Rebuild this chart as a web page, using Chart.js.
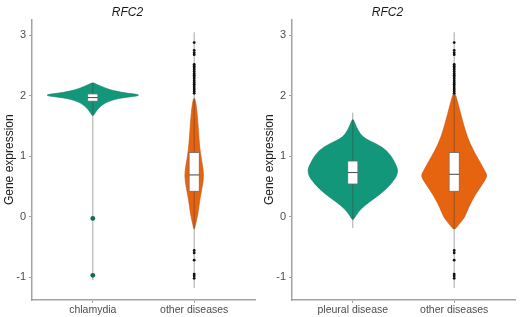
<!DOCTYPE html>
<html>
<head>
<meta charset="utf-8">
<script src="https://cdn.jsdelivr.net/npm/chart.js@4"></script>
<style>
  body { margin: 0; background: #fff; }
  #wrap { display: flex; width: 520px; height: 317px; }
  canvas { display: block; }
</style>
</head>
<body>
<div id="wrap">
  <canvas id="leftChart" width="260" height="317"></canvas>
  <canvas id="rightChart" width="260" height="317"></canvas>
</div>
<script>
const geneName = 'RFC2';
const leftLabels = ['chlamydia', 'other diseases'];
const rightLabels = ['pleural disease', 'other diseases'];
const yTicks = [-1, 0, 1, 2, 3];

// violin outlines: y values and half widths (in category units)
const chlamydiaY = [1.66, 1.72, 1.78, 1.83, 1.88, 1.92, 1.955, 1.98, 2.00, 2.02, 2.045, 2.07, 2.10, 2.13, 2.16, 2.19, 2.22];
const chlamydiaW = [0, 0.025, 0.05, 0.08, 0.12, 0.18, 0.25, 0.36, 0.45, 0.45, 0.33, 0.24, 0.17, 0.12, 0.08, 0.035, 0];
const otherLeftY = [-0.23, -0.12, 0.05, 0.26, 0.48, 0.675, 0.87, 1.06, 1.31, 1.58, 1.86, 1.99];
const otherLeftW = [0, 0.015, 0.038, 0.053, 0.078, 0.096, 0.08, 0.06, 0.046, 0.036, 0.02, 0];
const pleuralY = [-0.07, 0.02, 0.13, 0.24, 0.37, 0.54, 0.73, 0.92, 1.09, 1.20, 1.28, 1.36, 1.50, 1.64];
const pleuralW = [0, 0.03, 0.08, 0.16, 0.27, 0.38, 0.455, 0.41, 0.34, 0.24, 0.13, 0.075, 0.03, 0];
const otherRightY = [-0.23, -0.12, -0.01, 0.15, 0.37, 0.54, 0.675, 0.76, 0.92, 1.09, 1.31, 1.58, 1.86, 2.10];
const otherRightW = [0, 0.05, 0.105, 0.14, 0.21, 0.28, 0.33, 0.30, 0.25, 0.19, 0.13, 0.083, 0.04, 0];

// boxes: q1, median, q3 ; whisker line: min, max
const chlamydiaBox = [1.91, 1.97, 2.03];
const otherLeftBox = [0.42, 0.69, 1.06];
const pleuralBox = [0.54, 0.73, 0.92];
const otherRightBox = [0.42, 0.70, 1.06];
const chlamydiaRange = [-1.05, 2.22];
const otherRange = [-1.18, 3.05];
const pleuralRange = [-0.19, 1.72];

// outliers
const chlamydiaOutliers = [-0.03, -0.97];
const otherOutliers = [2.88, 2.75, 2.71, 2.68, 2.52, 2.49, 2.46, 2.43, 2.40, 2.37, 2.34, 2.31, 2.28, 2.25, 2.22, 2.19, 2.16, 2.13, 2.10, 2.07, 2.04,
    -0.56, -0.60, -0.72, -0.95, -0.98, -1.02];

const teal = '#13977a';
const orange = '#e6640f';

// closed smooth curve through points (midpoint quadratic)
function smoothPath(ctx, pts) {
    const n = pts.length;
    const mid = (a, b) => [(a[0] + b[0]) / 2, (a[1] + b[1]) / 2];
    let start = mid(pts[n - 1], pts[0]);
    ctx.moveTo(start[0], start[1]);
    for (let i = 0; i < n; i++) {
        const p = pts[i];
        const m = mid(p, pts[(i + 1) % n]);
        ctx.quadraticCurveTo(p[0], p[1], m[0], m[1]);
    }
    ctx.closePath();
}

function violinPlugin(groups) {
    return {
        id: 'violins',
        beforeDatasetsDraw(chart) {
            const ctx = chart.ctx;
            const x = chart.scales.x;
            const y = chart.scales.y;
            ctx.save();
            groups.forEach(g => {
                const pts = [];
                g.ys.forEach((v, i) => pts.push([x.getPixelForValue(g.pos + g.ws[i]), y.getPixelForValue(v)]));
                for (let i = g.ys.length - 2; i > 0; i--) {
                    pts.push([x.getPixelForValue(g.pos - g.ws[i]), y.getPixelForValue(g.ys[i])]);
                }
                ctx.beginPath();
                smoothPath(ctx, pts);
                ctx.fillStyle = g.color;
                ctx.fill();
                ctx.lineWidth = 0.6;
                ctx.strokeStyle = g.edge;
                ctx.stroke();

                // range line
                const cx = x.getPixelForValue(g.pos);
                ctx.beginPath();
                ctx.moveTo(cx, y.getPixelForValue(g.range[0]));
                ctx.lineTo(cx, y.getPixelForValue(g.range[1]));
                ctx.lineWidth = 1;
                ctx.strokeStyle = 'rgba(60,60,60,0.45)';
                ctx.stroke();

                // box
                const bl = x.getPixelForValue(g.pos - 0.05);
                const br = x.getPixelForValue(g.pos + 0.05);
                const bt = y.getPixelForValue(g.box[2]);
                const bb = y.getPixelForValue(g.box[0]);
                ctx.fillStyle = '#ffffff';
                ctx.fillRect(bl, bt, br - bl, bb - bt);
                ctx.lineWidth = 0.8;
                ctx.strokeStyle = '#6a6a6a';
                ctx.strokeRect(bl, bt, br - bl, bb - bt);
                const my = y.getPixelForValue(g.box[1]);
                ctx.beginPath();
                ctx.moveTo(bl, my);
                ctx.lineTo(br, my);
                ctx.lineWidth = 1.1;
                ctx.strokeStyle = '#555555';
                ctx.stroke();
            });
            ctx.restore();
        }
    };
}

function makeChart(id, labels, groups, outlierSets) {
    const datasets = outlierSets.map(s => ({
        data: s.values.map(v => ({ x: s.pos, y: v })),
        pointRadius: s.radius,
        pointBackgroundColor: s.color,
        pointBorderWidth: 0,
        showLine: false
    }));

    return new Chart(document.getElementById(id).getContext('2d'), {
        type: 'scatter',
        data: { datasets: datasets },
        options: {
            responsive: false,
            animation: false,
            devicePixelRatio: 1,
            layout: { padding: { left: 0, right: 5, top: 0, bottom: 0 } },
            plugins: {
                legend: { display: false },
                tooltip: { enabled: false },
                title: {
                    display: true,
                    text: geneName,
                    color: '#1a1a1a',
                    font: { family: '"Liberation Sans", Arial, sans-serif', size: 12, style: 'italic', weight: 'normal' },
                    padding: { top: 5, bottom: 0 }
                }
            },
            scales: {
                x: {
                    type: 'linear',
                    min: 0.4,
                    max: 2.6,
                    afterBuildTicks: s => { s.ticks = [{ value: 1 }, { value: 2 }]; },
                    afterFit: s => { s.height = 17; },
                    ticks: {
                        callback: v => labels[v - 1],
                        color: '#4d4d4d',
                        font: { family: '"Liberation Sans", Arial, sans-serif', size: 10.5 },
                        padding: 1,
                        maxRotation: 0,
                        autoSkip: false
                    },
                    grid: { display: true, drawOnChartArea: false, drawTicks: true, tickLength: 3, color: '#a3a3a3' },
                    border: { display: true, color: '#a3a3a3', width: 1.5 }
                },
                y: {
                    min: -1.379,
                    max: 3.263,
                    afterBuildTicks: s => { s.ticks = yTicks.map(v => ({ value: v })); },
                    afterFit: s => { s.width = 32; },
                    ticks: {
                        color: '#4d4d4d',
                        font: { family: '"Liberation Sans", Arial, sans-serif', size: 11 },
                        padding: 3
                    },
                    grid: { display: true, drawOnChartArea: false, drawTicks: true, tickLength: 3, color: '#a3a3a3' },
                    border: { display: true, color: '#a3a3a3', width: 1.5 },
                    title: {
                        display: true,
                        text: 'Gene expression',
                        color: '#1a1a1a',
                        font: { family: '"Liberation Sans", Arial, sans-serif', size: 12 },
                        padding: { top: 2, bottom: 0 }
                    }
                }
            }
        },
        plugins: [violinPlugin(groups)]
    });
}

makeChart('leftChart', leftLabels, [
    { pos: 1, ys: chlamydiaY, ws: chlamydiaW, box: chlamydiaBox, range: chlamydiaRange, color: teal, edge: '#0e7d63' },
    { pos: 2, ys: otherLeftY, ws: otherLeftW, box: otherLeftBox, range: otherRange, color: orange, edge: '#c9540a' }
], [
    { pos: 1, values: chlamydiaOutliers, radius: 2.4, color: '#0a6e57' },
    { pos: 2, values: otherOutliers, radius: 1.4, color: '#111111' }
]);

makeChart('rightChart', rightLabels, [
    { pos: 1, ys: pleuralY, ws: pleuralW, box: pleuralBox, range: pleuralRange, color: teal, edge: '#0e7d63' },
    { pos: 2, ys: otherRightY, ws: otherRightW, box: otherRightBox, range: otherRange, color: orange, edge: '#c9540a' }
], [
    { pos: 2, values: otherOutliers, radius: 1.4, color: '#111111' }
]);
</script>
</body>
</html>
